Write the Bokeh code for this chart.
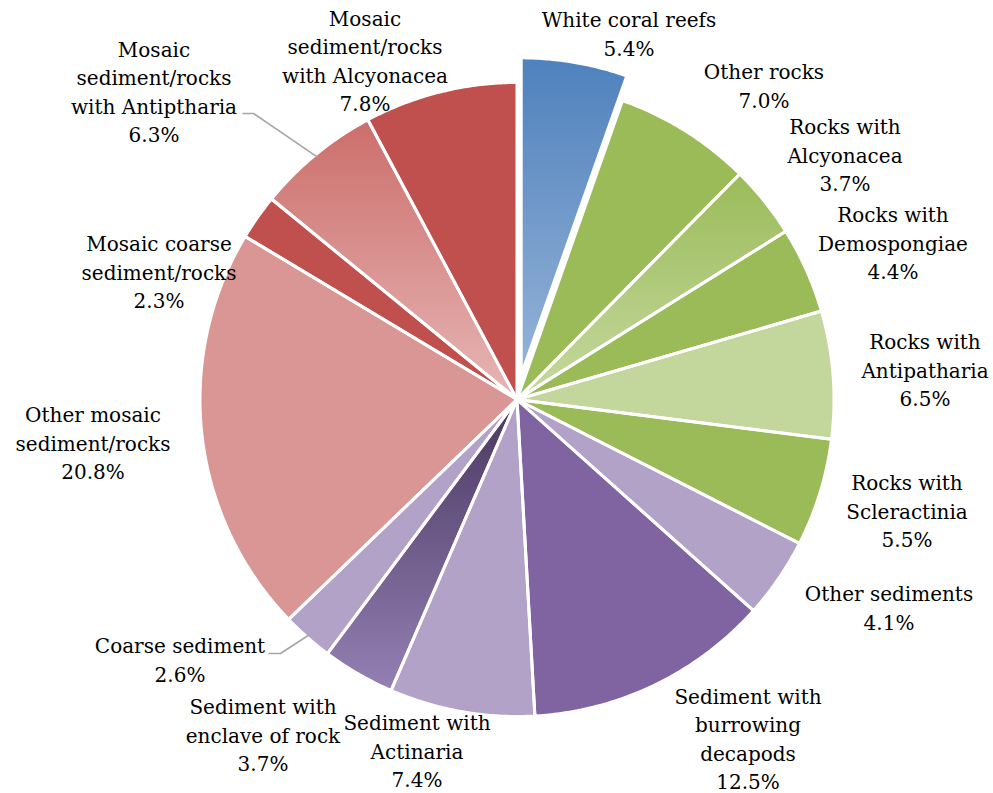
import math
from bokeh.plotting import figure
from bokeh.models import Range1d
from bokeh.core.properties import value
from bokeh.embed import file_html
from bokeh.resources import INLINE

# ---------------- data ----------------
categories = [
    "White coral reefs", "Other rocks", "Rocks with Alcyonacea",
    "Rocks with Demospongiae", "Rocks with Antipatharia", "Rocks with Scleractinia",
    "Other sediments", "Sediment with burrowing decapods", "Sediment with Actinaria",
    "Sediment with enclave of rock", "Coarse sediment", "Other mosaic sediment/rocks",
    "Mosaic coarse sediment/rocks", "Mosaic sediment/rocks with Antiptharia",
    "Mosaic sediment/rocks with Alcyonacea",
]
percent = [5.4, 7.0, 3.7, 4.4, 6.5, 5.5, 4.1, 12.5, 7.4, 3.7, 2.6, 20.8, 2.3, 6.3, 7.8]
label_lines = [
    ["White coral reefs"], ["Other rocks"], ["Rocks with", "Alcyonacea"],
    ["Rocks with", "Demospongiae"], ["Rocks with", "Antipatharia"],
    ["Rocks with", "Scleractinia"], ["Other sediments"],
    ["Sediment with", "burrowing", "decapods"], ["Sediment with", "Actinaria"],
    ["Sediment with", "enclave of rock"], ["Coarse sediment"],
    ["Other mosaic", "sediment/rocks"], ["Mosaic coarse", "sediment/rocks"],
    ["Mosaic", "sediment/rocks", "with Antiptharia"],
    ["Mosaic", "sediment/rocks", "with Alcyonacea"],
]

# ---------------- styles / layout ----------------
# (top colour, bottom colour) -- equal when flat
fills = [
    ("#4F81BD", "#95B3D7"), ("#9BBB59", "#9BBB59"), ("#9BBB59", "#C6D9A0"),
    ("#9BBB59", "#9BBB59"), ("#C3D69B", "#C3D69B"), ("#9BBB59", "#9BBB59"),
    ("#B3A2C7", "#B3A2C7"), ("#8064A2", "#8064A2"), ("#B3A2C7", "#B3A2C7"),
    ("#4A3760", "#9480B3"), ("#B3A2C7", "#B3A2C7"), ("#D99694", "#D99694"),
    ("#C0504D", "#C0504D"), ("#CC6E6B", "#E6B6B5"), ("#C0504D", "#C0504D"),
]
explode = [25, 0, 0, 0, 0, 0, 0, 0, 0, 0, 0, 0, 0, 0, 0]
# label block centres, offsets (px) from pie centre, screen y downwards
label_offsets = [
    (112, -365), (247, -313), (328, -244), (376, -156), (408, -29),
    (390, 112), (372, 209), (231, 340), (-100, 352), (-254, 336),
    (-337, 261), (-424, 44), (-358, -127), (-363, -307), (-152, -338),
]
# leader lines: slice index -> (text end offset, elbow offset)
leaders = {10: ((-248.5, 254), (-236.5, 254)), 13: ((-274.5, -286), (-263.5, -286))}

W, H = 993, 793
CX_S, CY_S = 516.5, 399.0     # pie centre in page pixels
R = 317.0
FONT = "DejaVu Serif"
FS = 20
LH = 28.5

def ydata(ys):
    return H - ys

cx, cy = CX_S, ydata(CY_S)

p = figure(width=W, height=H, output_backend="svg", toolbar_location=None,
           x_range=Range1d(0, W), y_range=Range1d(0, H),
           min_border=0)
p.axis.visible = False
p.grid.visible = False
p.outline_line_color = None
p.background_fill_color = "white"

def hex2rgb(h):
    h = h.lstrip("#")
    return tuple(int(h[i:i + 2], 16) for i in (0, 2, 4))

def mix(c0, c1, t):
    a, b = hex2rgb(c0), hex2rgb(c1)
    return "#%02x%02x%02x" % tuple(int(round(a[i] + (b[i] - a[i]) * t)) for i in range(3))

def clip_half(poly, y, keep_above):
    out = []
    n = len(poly)
    for i in range(n):
        x1, y1 = poly[i]
        x2, y2 = poly[(i + 1) % n]
        in1 = (y1 >= y) if keep_above else (y1 <= y)
        in2 = (y2 >= y) if keep_above else (y2 <= y)
        if in1:
            out.append((x1, y1))
        if in1 != in2:
            t = (y - y1) / (y2 - y1)
            out.append((x1 + t * (x2 - x1), y))
    return out

total = sum(percent)
starts, ends = [], []
acc = 0.0
for v in percent:
    starts.append(acc / total * 2 * math.pi)
    acc += v
    ends.append(acc / total * 2 * math.pi)

polys = []
for i in range(len(percent)):
    a0, a1 = starts[i], ends[i]
    mid = (a0 + a1) / 2
    ox = cx + explode[i] * math.sin(mid)
    oy = cy + explode[i] * math.cos(mid)
    n = max(8, int((a1 - a0) / (2 * math.pi) * 720))
    pts = [(ox, oy)]
    for k in range(n + 1):
        a = a0 + (a1 - a0) * k / n
        pts.append((ox + R * math.sin(a), oy + R * math.cos(a)))
    polys.append(pts)

# fills
for i, pts in enumerate(polys):
    top, bot = fills[i]
    if top == bot:
        p.patch([q[0] for q in pts], [q[1] for q in pts], fill_color=top, line_color=None)
    else:
        ys = [q[1] for q in pts]
        ymax, ymin = max(ys), min(ys)
        N = 90
        for s in range(N):
            y_hi = ymax - (ymax - ymin) * s / N
            y_lo = ymax - (ymax - ymin) * (s + 1) / N
            part = clip_half(pts, y_lo - 0.4, True)
            if len(part) < 3:
                continue
            part = clip_half(part, y_hi + 0.4, False)
            if len(part) < 3:
                continue
            col = mix(top, bot, (s + 0.5) / N)
            p.patch([q[0] for q in part], [q[1] for q in part], fill_color=col,
                    line_color=None)

# white separators
for pts in polys:
    p.patch([q[0] for q in pts], [q[1] for q in pts], fill_alpha=0,
            line_color="white", line_width=3, line_join="round")

# leader lines
for i, (tend, elbow) in leaders.items():
    mid = (starts[i] + ends[i]) / 2
    ex = cx + (R - 4) * math.sin(mid)
    ey = cy + (R - 4) * math.cos(mid)
    xs = [cx + tend[0], cx + elbow[0], ex]
    ys = [cy - tend[1], cy - elbow[1], ey]
    p.line(xs, ys, line_color="#A6A6A6", line_width=1.6)

# labels
tx, ty, tt = [], [], []
for i in range(len(percent)):
    lines = label_lines[i] + ["%.1f%%" % percent[i]]
    dx, dy = label_offsets[i]
    n = len(lines)
    for j, ln in enumerate(lines):
        tx.append(cx + dx)
        ty.append(cy - dy - (j - (n - 1) / 2) * LH)
        tt.append(ln)
p.text(x=tx, y=ty, text=tt, text_align="center", text_baseline="middle",
       text_font=value(FONT), text_font_size="%dpx" % FS, text_color="#000000")

open("out.html", "w").write(file_html(p, INLINE))
